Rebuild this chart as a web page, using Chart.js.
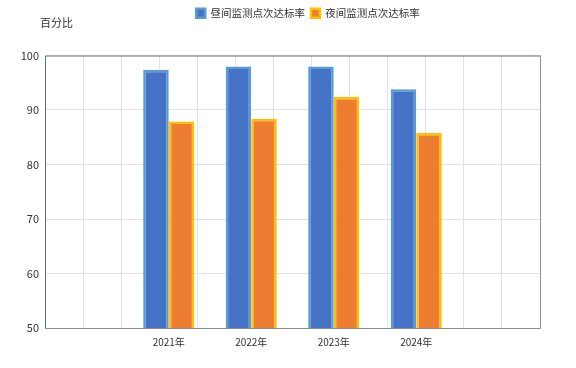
<!DOCTYPE html>
<html>
<head>
<meta charset="utf-8">
<script src="https://cdn.jsdelivr.net/npm/chart.js@4/dist/chart.umd.min.js"></script>
<style>
  html, body { margin: 0; padding: 0; background: #fff; }
  #wrap { width: 576px; height: 368px; }
</style>
</head>
<body>
<div id="wrap"><canvas id="noiseChart" width="576" height="368"></canvas></div>
<script>
const years = ['', '2021年', '2022年', '2023年', '2024年', ''];
const dayRate = [null, 97.4, 98.0, 98.0, 93.8, null];
const nightRate = [null, 87.9, 88.4, 92.4, 85.8, null];
const yTicks = [50, 60, 70, 80, 90, 100];

const FONT = '"Noto Sans CJK SC", "Noto Sans", sans-serif';

// extra room under the legend, and nudge it right like the original
const legendGap = {
  id: 'legendGap',
  beforeInit(chart) {
    const legend = chart.legend;
    const fit = legend.fit;
    legend.fit = function () {
      fit.call(this);
      this.height += 27;
    };
    const draw = legend.draw;
    legend.draw = function () {
      const c = this.ctx;
      c.save();
      c.translate(38, 0);
      draw.call(this);
      c.restore();
    };
  }
};

// frame round the plot area + the y unit text
const framePlugin = {
  id: 'frame',
  afterDraw(chart) {
    const { ctx, chartArea: a } = chart;
    ctx.save();
    ctx.lineWidth = 1;
    ctx.strokeStyle = '#8a8f96';
    ctx.beginPath();
    ctx.moveTo(a.right + 0.5, a.top);
    ctx.lineTo(a.right + 0.5, a.bottom + 0.5);
    ctx.lineTo(a.left, a.bottom + 0.5);
    ctx.stroke();
    ctx.strokeStyle = '#5a7394';
    ctx.beginPath();
    ctx.moveTo(a.left + 0.5, a.bottom);
    ctx.lineTo(a.left + 0.5, a.top + 0.5);
    ctx.lineTo(a.right, a.top + 0.5);
    ctx.stroke();
    ctx.fillStyle = '#333';
    ctx.font = '11px ' + FONT;
    ctx.textAlign = 'left';
    ctx.textBaseline = 'middle';
    ctx.fillText('百分比', 40, 23);
    ctx.restore();
  }
};

const ctx = document.getElementById('noiseChart').getContext('2d');

new Chart(ctx, {
  type: 'bar',
  data: {
    labels: years,
    datasets: [
      {
        label: '昼间监测点次达标率',
        data: dayRate,
        backgroundColor: '#4472c4',
        borderColor: '#5b9bd5',
        borderWidth: 2.5,
        categoryPercentage: 0.62,
        barPercentage: 1.0
      },
      {
        label: '夜间监测点次达标率',
        data: nightRate,
        backgroundColor: '#ed7d31',
        borderColor: '#ffc000',
        borderWidth: 2.5,
        categoryPercentage: 0.62,
        barPercentage: 1.0
      }
    ]
  },
  options: {
    responsive: false,
    animation: false,
    layout: { padding: { left: 0, right: 36, top: 2, bottom: 20 } },
    plugins: {
      legend: {
        display: true,
        position: 'top',
        labels: {
          boxWidth: 9,
          boxHeight: 9,
          padding: 6,
          color: '#333',
          font: { family: FONT, size: 10.5 }
        }
      },
      tooltip: { enabled: false }
    },
    scales: {
      x: {
        grid: { display: false },
        border: { display: false },
        ticks: {
          color: '#333',
          padding: 0,
          font: { family: FONT, size: 10 },
          autoSkip: false,
          maxRotation: 0
        }
      },
      x2: {
        type: 'linear',
        position: 'bottom',
        min: 0,
        max: 12,
        display: true,
        grid: { color: '#dfe3e8', drawTicks: false },
        border: { display: false },
        ticks: { display: false, stepSize: 1 },
        afterFit(scale) { scale.height = 0; }
      },
      y: {
        min: 50,
        max: 100,
        afterBuildTicks(scale) { scale.ticks = yTicks.map(v => ({ value: v })); },
        afterFit(scale) { scale.width = 45; },
        grid: { color: '#dfe3e8', drawTicks: false },
        border: { display: false },
        ticks: {
          color: '#333',
          padding: 6,
          font: { family: FONT, size: 11 }
        }
      }
    }
  },
  plugins: [framePlugin, legendGap]
});
</script>
</body>
</html>
